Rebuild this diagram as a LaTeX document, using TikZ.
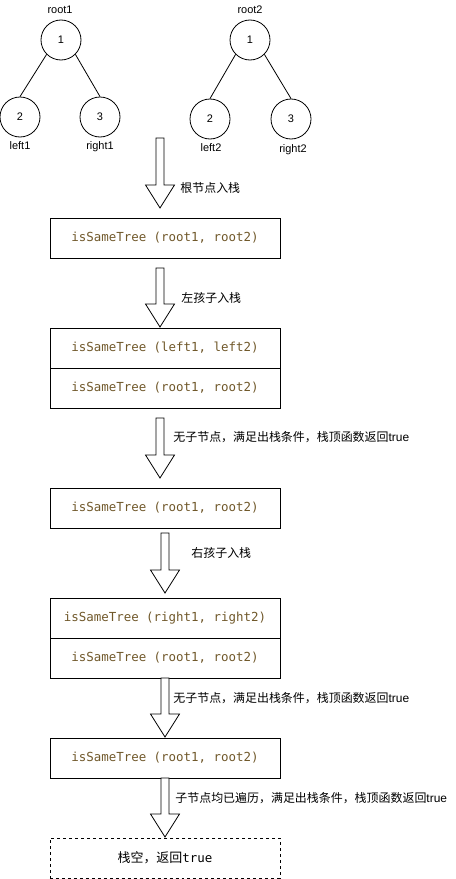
\documentclass[tikz,border=0pt]{standalone}
\usepackage{fontspec}
\setmainfont{Liberation Sans}
\newfontfamily\cjk{Noto Sans CJK SC}
\newfontfamily\codefont{DejaVu Sans Mono}
\usetikzlibrary{calc, positioning}
\definecolor{codebrown}{RGB}{112,88,42}

\tikzset{
  treenode/.style={circle, draw, minimum size=40bp, inner sep=0pt, font=\fontsize{11}{13}\selectfont},
  treelabel/.style={inner sep=0pt, font=\fontsize{11}{13}\selectfont},
  stackcell/.style={draw, minimum width=230bp, minimum height=40bp, inner sep=0pt, outer sep=0pt,
    text=codebrown, font=\codefont\fontsize{12.5}{15}\selectfont},
  steplabel/.style={anchor=west, inner sep=0pt, font=\fontsize{12}{14}\selectfont},
  blockarrow/.style={draw, fill=white, line join=miter}
}
\newcommand{\BlockArrow}[2]{%
  \draw[blockarrow] ($(#1)+(-4,0)$) -- ($(#2)+(-4,-23)$) -- ($(#2)+(-14.5,-23)$) -- (#2)
    -- ($(#2)+(14.5,-23)$) -- ($(#2)+(4,-23)$) -- ($(#1)+(4,0)$) -- cycle;}

\begin{document}
\begin{tikzpicture}[x=1bp, y=-1bp, line width=0.8bp]
  \useasboundingbox (0,0) rectangle (456,879);

  % 1. 兩棵樹 root1 與 root2
  \node[treenode] (r1) at (61,40) {1};
  \node[treenode] (l1) at (20,117) {2};
  \node[treenode] (rr1) at (100,117) {3};
  \node[treenode] (r2) at (250,40) {1};
  \node[treenode] (l2) at (210,119) {2};
  \node[treenode] (rr2) at (291,119) {3};
  \draw (r1.south west) -- (l1.north) (r1.south east) -- (rr1.north);
  \draw (r2.south west) -- (l2.north) (r2.south east) -- (rr2.north);

  \node[treelabel] (t1) at (60,10) {root1};
  \node[treelabel] (t2) at (20,146) {left1};
  \node[treelabel] (t3) at (100,147) {right1};
  \node[treelabel] (t4) at (250,10) {root2};
  \node[treelabel] (t5) at (211,148) {left2};
  \node[treelabel] (t6) at (293,150) {right2};

  % 2. 各步驟的棧
  \node[stackcell] (s1) at (165,238) {isSameTree (root1, root2)};
  \node[stackcell] (s2a) at (165,348) {isSameTree (left1, left2)};
  \node[stackcell, below=0pt of s2a] (s2b) {isSameTree (root1, root2)};
  \node[stackcell] (s3) at (165,508) {isSameTree (root1, root2)};
  \node[stackcell] (s4a) at (165,618) {isSameTree (right1, right2)};
  \node[stackcell, below=0pt of s4a] (s4b) {isSameTree (root1, root2)};
  \node[stackcell] (s5) at (165,758) {isSameTree (root1, root2)};
  \node[stackcell, dashed, text=black] (s6) at (165,858)
    {{\cjk\fontsize{13}{15}\selectfont 栈空，返回}true};

  % 3. 箭頭的端點
  \coordinate (a1s) at (160,138); \coordinate (a1e) at (160,208);
  \coordinate (a2s) at (160,268); \coordinate (a2e) at (160,327);
  \coordinate (a3s) at (160,418); \coordinate (a3e) at (160,478);
  \coordinate (a4s) at (165,533); \coordinate (a4e) at (165,593);
  \coordinate (a5s) at (165,678); \coordinate (a5e) at (165,737);
  \coordinate (a6s) at (165,778); \coordinate (a6e) at (165,837);

  % 4. 繪製箭頭與說明
  \BlockArrow{a1s}{a1e}
  \BlockArrow{a2s}{a2e}
  \BlockArrow{a3s}{a3e}
  \BlockArrow{a4s}{a4e}
  \BlockArrow{a5s}{a5e}
  \BlockArrow{a6s}{a6e}

  \node[steplabel] (m1) at (180,188) {\cjk 根节点入栈};
  \node[steplabel] (m2) at (181,298) {\cjk 左孩子入栈};
  \node[steplabel] (m3) at (173,437) {{\cjk 无子节点，满足出栈条件，栈顶函数返回}true};
  \node[steplabel] (m4) at (191,553) {\cjk 右孩子入栈};
  \node[steplabel] (m5) at (173,698) {{\cjk 无子节点，满足出栈条件，栈顶函数返回}true};
  \node[steplabel] (m6) at (175,798) {{\cjk 子节点均已遍历，满足出栈条件，栈顶函数返回}true};
\end{tikzpicture}
\end{document}
